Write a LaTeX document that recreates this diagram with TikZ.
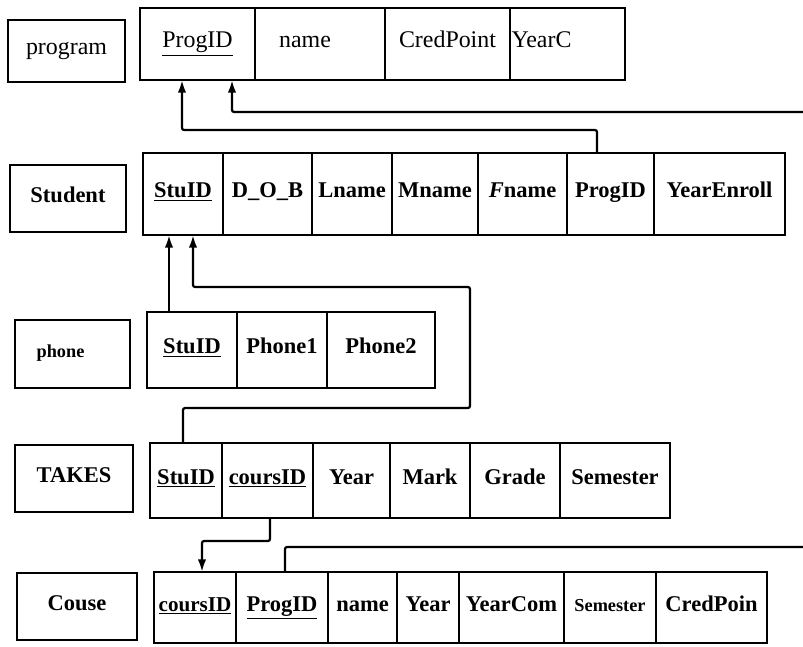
\documentclass[tikz,border=0pt]{standalone}
\usepackage{fontspec}
\setmainfont{Liberation Serif}
\usepackage{tikz}
\usetikzlibrary{arrows.meta}

% one cell of a relation: name, x from, x to, y from, y to, text (pixel units)
\newcommand{\relcell}[6]{%
  \node[cellbox, minimum width={(#3-#2)*0.025cm}, minimum height={(#5-#4)*0.025cm}]
    (#1) at ({(#2+#3)/2},{(#4+#5)/2}) {#6};}
\newcommand{\pkey}[1]{\underline{#1}}

\tikzset{
  cellbox/.style={draw, line width=2pt, inner sep=0pt, outer sep=0pt,
    text height=1.5ex, text depth=0.3ex,
    font=\fontsize{16}{18}\selectfont\bfseries},
  fk/.style={line width=1.6pt, -{Latex[length=9pt,width=6pt]}, rounded corners=1.5pt},
  ln/.style={line width=1.6pt, rounded corners=1.5pt},
}

\begin{document}
\begin{tikzpicture}[x=0.025cm, y=-0.025cm]
    \useasboundingbox (0,0) rectangle (803,646);

    % program
    \relcell{program}{8}{125}{20}{82}{\mdseries\fontsize{17}{19}\selectfont program}
    \relcell{prog-pid}{140}{255}{8}{80}{\mdseries\fontsize{17}{19}\selectfont\pkey{ProgID}}
    \relcell{prog-name}{255}{385}{8}{80}{\mdseries\fontsize{17}{19}\selectfont name\kern0.75cm}
    \relcell{prog-cred}{385}{510}{8}{80}{\mdseries\fontsize{17}{19}\selectfont CredPoint}
    \relcell{prog-year}{510}{625}{8}{80}{\mdseries\fontsize{17}{19}\selectfont YearC\kern1.3cm}

    % Student
    \relcell{student}{10}{126}{165}{232}{Student}
    \relcell{stu-sid}{143}{223}{153}{235}{\pkey{StuID}}
    \relcell{stu-dob}{223}{312}{153}{235}{D\_O\_B}
    \relcell{stu-lname}{312}{392}{153}{235}{Lname}
    \relcell{stu-mname}{392}{478}{153}{235}{Mname}
    \relcell{stu-fname}{478}{567}{153}{235}{{\itshape F}name}
    \relcell{stu-pid}{567}{654}{153}{235}{ProgID}
    \relcell{stu-year}{654}{785}{153}{235}{YearEnroll}

    % phone
    \relcell{phone}{15}{130}{320}{388}{\fontsize{13}{15}\selectfont phone\kern0.6cm}
    \relcell{ph-sid}{147}{237}{312}{388}{\pkey{StuID}}
    \relcell{ph-p1}{237}{327}{312}{388}{Phone1}
    \relcell{ph-p2}{327}{435}{312}{388}{Phone2}

    % TAKES
    \relcell{takes}{15}{133}{445}{512}{TAKES}
    \relcell{tk-sid}{150}{222}{443}{518}{\pkey{StuID}}
    \relcell{tk-cid}{222}{313}{443}{518}{\pkey{coursID}}
    \relcell{tk-year}{313}{390}{443}{518}{Year}
    \relcell{tk-mark}{390}{470}{443}{518}{Mark}
    \relcell{tk-grade}{470}{560}{443}{518}{Grade}
    \relcell{tk-sem}{560}{670}{443}{518}{Semester}

    % Couse
    \relcell{couse}{17}{137}{573}{640}{Couse}
    \relcell{cs-cid}{154}{236}{572}{643}{\fontsize{15}{17}\selectfont\pkey{coursID}}
    \relcell{cs-pid}{236}{328}{572}{643}{\pkey{ProgID}}
    \relcell{cs-name}{328}{397}{572}{643}{name}
    \relcell{cs-year}{397}{459}{572}{643}{Year}
    \relcell{cs-ycom}{459}{564}{572}{643}{YearCom}
    \relcell{cs-sem}{564}{656}{572}{643}{\fontsize{13}{15}\selectfont Semester}
    \relcell{cs-cred}{656}{767}{572}{643}{CredPoin}

    % foreign keys
    \coordinate (pa1) at (597,130);
    \coordinate (pa2) at (182,130);
    \draw[fk] (stu-pid.north -| pa1) -- (pa1) -- (pa2) -- (prog-pid.south -| pa2);

    \coordinate (pb1) at (803,112);
    \coordinate (pb2) at (232,112);
    \draw[fk] (pb1) -- (pb2) -- (prog-pid.south -| pb2);

    \coordinate (pc) at (169,270);
    \draw[fk] (ph-sid.north -| pc) -- (stu-sid.south -| pc);

    \coordinate (pd1) at (183,408);
    \coordinate (pd2) at (470,408);
    \coordinate (pd3) at (470,287);
    \coordinate (pd4) at (193,287);
    \draw[fk] (tk-sid.north -| pd1) -- (pd1) -- (pd2) -- (pd3) -- (pd4) -- (stu-sid.south -| pd4);

    \coordinate (pe1) at (270,541);
    \coordinate (pe2) at (202,541);
    \draw[fk] (tk-cid.south -| pe1) -- (pe1) -- (pe2) -- (cs-cid.north -| pe2);

    \coordinate (pf1) at (285,547);
    \coordinate (pf2) at (803,547);
    \draw[ln] (cs-pid.north -| pf1) -- (pf1) -- (pf2);
\end{tikzpicture}
\end{document}
